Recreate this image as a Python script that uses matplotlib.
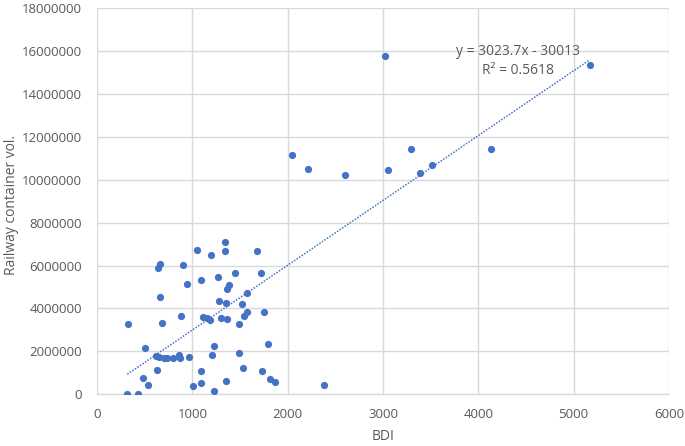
import matplotlib
matplotlib.use("Agg")
import matplotlib.pyplot as plt
import numpy as np

bdi = [1342, 1051, 1190, 1347, 1674, 657, 634, 899, 1449, 1721,
       945, 1088, 1268, 1384, 1363, 663, 1575, 1281, 1355, 1520,
       1575, 1748, 1539, 877, 1111, 1148, 1184, 1297, 1365, 1489,
       326, 686, 500, 1223, 1798, 613, 649, 697, 733, 794,
       856, 872, 959, 1202, 1486, 625, 1088, 1527, 1728, 481,
       532, 1009, 1095, 1352, 1819, 1866, 1228, 317, 426, 2380,
       2044, 2215, 2597, 3017, 3051, 3290, 3384, 3516, 4129, 5167]
rail_mil = [7.085, 6.71, 6.48, 6.66, 6.68, 6.09, 5.87, 6.04, 5.67, 5.66,
            5.16, 5.34, 5.46, 5.10, 4.92, 4.53, 4.74, 4.36, 4.24, 4.22,
            3.85, 3.83, 3.66, 3.66, 3.59, 3.54, 3.44, 3.55, 3.51, 3.26,
            3.29, 3.31, 2.17, 2.25, 2.33, 1.78, 1.72, 1.69, 1.67, 1.71,
            1.85, 1.68, 1.74, 1.85, 1.91, 1.13, 1.10, 1.20, 1.08, 0.74,
            0.415, 0.39, 0.50, 0.63, 0.71, 0.58, 0.126, 0.01, 0.01, 0.415,
            11.16, 10.49, 10.21, 15.77, 10.44, 11.42, 10.32, 10.69, 11.42, 15.34]
rail = [v * 1e6 for v in rail_mil]

slope = 3023.7
intercept = -30013
eq_text = "y = 3023.7x - 30013"
r2_text = "R² = 0.5618"

xticks = [0, 1000, 2000, 3000, 4000, 5000, 6000]
yticks = [0, 2000000, 4000000, 6000000, 8000000, 10000000, 12000000,
          14000000, 16000000, 18000000]

plt.rcParams['font.family'] = ['Open Sans', 'DejaVu Sans']

fig = plt.figure(figsize=(6.85, 4.46), dpi=100)
ax = fig.add_axes([97.1/685, 1 - 394.2/446, (669 - 97.1)/685, (394.2 - 8.3)/446])

blue = "#4472C4"
gray_txt = "#595959"
grid_c = "#D9D9D9"

ax.scatter(bdi, rail, s=27, color=blue, zorder=3, linewidths=0)

xs = np.array([min(bdi), max(bdi)])
ax.plot(xs, slope * xs + intercept, color=blue, linestyle=(0, (1, 1)),
        linewidth=1.1, zorder=2)

ax.text(4415, 15.98e6, eq_text, ha="center", va="center", fontsize=10, color=gray_txt)
ax.text(4415, 15.1e6, r2_text, ha="center", va="center", fontsize=10, color=gray_txt)

ax.set_xlim(0, 6000)
ax.set_ylim(0, 18000000)
ax.set_xticks(xticks)
ax.set_yticks(yticks)
ax.set_xticklabels([str(t) for t in xticks])
ax.set_yticklabels([str(t) for t in yticks])
ax.tick_params(axis="both", length=0, colors=gray_txt, labelsize=9.5)
ax.tick_params(axis="y", pad=11)
ax.tick_params(axis="x", pad=10)
ax.grid(True, color=grid_c, linewidth=1)
ax.set_axisbelow(True)
for s in ["top", "right", "left"]:
    ax.spines[s].set_visible(False)
ax.spines["bottom"].set_color(grid_c)
ax.spines["bottom"].set_linewidth(1)

ax.set_xlabel("BDI", fontsize=10, color=gray_txt, labelpad=6)
ax.set_ylabel("Railway container vol.", fontsize=10, color=gray_txt,
              va="center", ha="center")
ax.yaxis.set_label_coords((12 - 97.1) / 571.9, 0.49)

fig.savefig("out.png", dpi=100)
